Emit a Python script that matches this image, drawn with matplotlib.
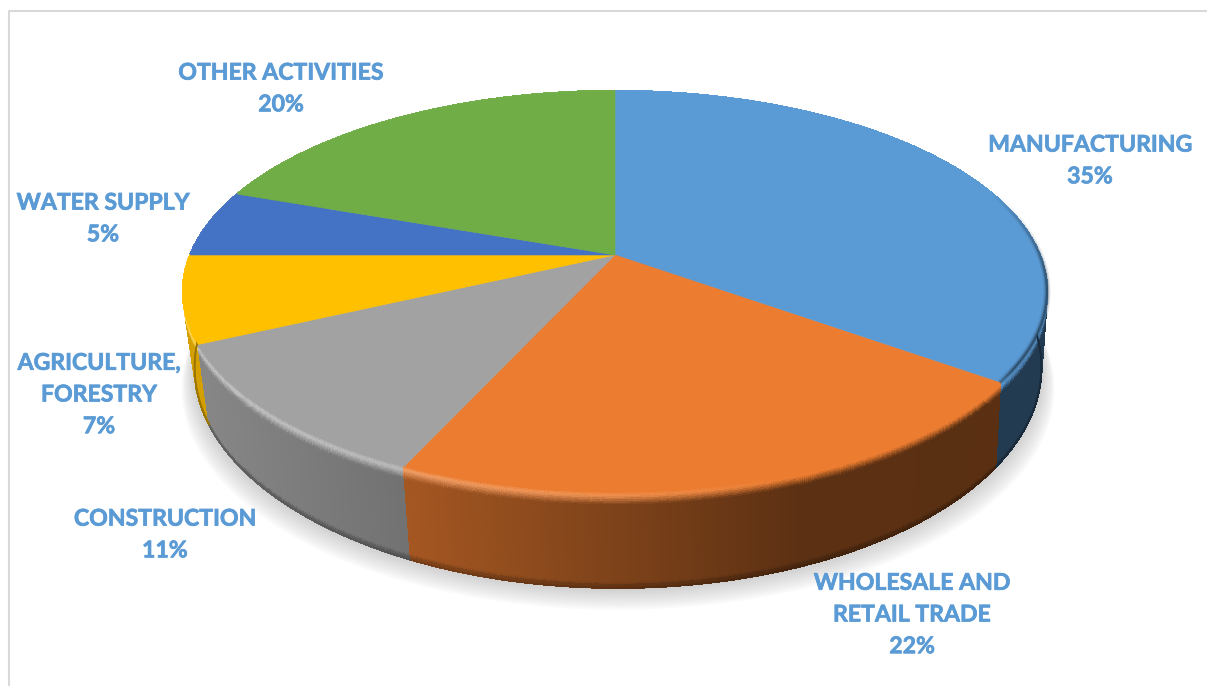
import numpy as np
import matplotlib
matplotlib.use('Agg')
import matplotlib.pyplot as plt
import matplotlib.patheffects as pe
from matplotlib.collections import PolyCollection, LineCollection
from matplotlib.colors import to_rgb

categories = ['MANUFACTURING', 'WHOLESALE AND\nRETAIL TRADE', 'CONSTRUCTION',
              'AGRICULTURE,\nFORESTRY', 'WATER SUPPLY', 'OTHER ACTIVITIES']
# estimated from the slice corners, the labels show them rounded
values = [35, 21.8, 11.2, 7, 5.4, 19.6]
colors = ['#5B9BD5', '#EB7C30', '#A2A2A2', '#FFC000', '#4472C4', '#70AD47']

# label block centres, pixels
label_x = [1090, 912, 165, 99, 103, 281]
label_y = [161, 615, 535, 395, 219, 89]

W, H = 1207, 686
CX, CY = 615, 255
RX, RY, K = 424.8, 193.9, 0.182


def project(theta):
    # theta clockwise from the top of the pie, degrees
    u = np.sin(np.radians(theta))
    v = -np.cos(np.radians(theta))
    w = 1 - K * v
    return RX * u / w, RY * v / w


def top_pts(theta):
    x, y = project(theta)
    return CX + x, CY + y


def bottom_pts(theta):
    x, y = project(theta)
    return CX + 3 + 0.98 * x, CY + 72 + 1.1 * y


def wall_shade(x):
    return np.interp(x, [200, 405, 800, 1050], [0.83, 0.70, 0.39, 0.38])


def highlight(x):
    return np.interp(x, [190, 600, 800], [0.38, 0.16, 0.0])


def wall_colour(face, x, t):
    # colour down the wall, t is 0 at the top edge and 1 at the floor
    base = face * wall_shade(x)
    hi = face + (1 - face) * highlight(x)
    col = np.array([np.interp(t, [0, 0.05, 0.14, 0.95, 1.0],
                              [face[c], hi[c], base[c], base[c], base[c] * 0.72])
                    for c in range(3)])
    return np.clip(col, 0, 1)


fig = plt.figure(figsize=(W / 100, H / 100), dpi=100)
ax = fig.add_axes([0, 0, 1, 1])
ax.set_xlim(0, W)
ax.set_ylim(H, 0)
ax.axis('off')

# chart frame, only the top and left sides fall inside the picture
ax.plot([8.5, 8.5, W], [H, 10.5, 10.5], color='#D9D9D9', lw=1.5, zorder=1)

angles = np.linspace(0, 360, 1441)

# soft shadow under the pie
bx, by = bottom_pts(angles)
for d in np.arange(22, 0, -2):
    sx = CX + (bx - CX) * (1 + d * 0.0014)
    ax.fill(sx, by + d, color='#808080', alpha=0.035, lw=0, zorder=2)

edges = np.cumsum([0] + values) * 3.6

# side wall, built from small quads from back to front
levels = np.r_[np.linspace(0, 0.14, 9), 0.5, 0.95, 0.97, 1.0]
quads = []
quad_cols = []
rim_segs = []
rim_cols = []
order = np.argsort(-np.cos(np.radians(angles[:-1] + 0.125)))
for i in order:
    a0, a1 = angles[i], angles[i + 1]
    mid = 0.5 * (a0 + a1)
    idx = min(np.searchsorted(edges, mid, side='right') - 1, len(values) - 1)
    face = np.array(to_rgb(colors[idx]))
    tx0, ty0 = top_pts(a0)
    tx1, ty1 = top_pts(a1)
    bx0, by0 = bottom_pts(a0)
    bx1, by1 = bottom_pts(a1)
    xm = 0.5 * (tx0 + tx1)
    for j in range(len(levels) - 1):
        t0, t1 = levels[j], levels[j + 1]
        quads.append([(tx0 + (bx0 - tx0) * t0, ty0 + (by0 - ty0) * t0),
                      (tx1 + (bx1 - tx1) * t0, ty1 + (by1 - ty1) * t0),
                      (tx1 + (bx1 - tx1) * t1, ty1 + (by1 - ty1) * t1),
                      (tx0 + (bx0 - tx0) * t1, ty0 + (by0 - ty0) * t1)])
        quad_cols.append(wall_colour(face, xm, 0.5 * (t0 + t1)))
    if 60 < mid < 300:
        rim_segs.append([(bx0, by0), (bx1, by1)])
        rim_cols.append(wall_colour(face, xm, 1.0))
ax.add_collection(PolyCollection(quads, facecolors=quad_cols, edgecolors=quad_cols,
                                 linewidths=1.0, antialiased=False, zorder=3))
# smooths the stepped lower edge of the wall
ax.add_collection(LineCollection(rim_segs, colors=rim_cols, linewidths=1.2,
                                 capstyle='round', zorder=3))

# top face of every slice
for i in range(len(values)):
    a = np.linspace(edges[i], edges[i + 1], 200)
    x, y = top_pts(a)
    ax.fill(np.r_[CX, x], np.r_[CY, y], color=colors[i], lw=0.4, zorder=4)

# dark soft rim on the right of the top face
rim_a = np.arange(70, 126, 0.5)
for width, strength in [(5, 0.15), (3, 0.3), (1.5, 0.6)]:
    segs = []
    seg_cols = []
    for a in rim_a:
        x0, y0 = top_pts(a)
        x1, y1 = top_pts(a + 0.5)
        s = np.interp(a, [70, 100, 122, 126], [0, 1, 1, 0.5]) * strength
        face = np.array(to_rgb(colors[0]))
        segs.append([(x0, y0), (x1, y1)])
        seg_cols.append(tuple(face * wall_shade(x0)) + (s,))
    ax.add_collection(LineCollection(segs, colors=seg_cols, linewidths=width,
                                     capstyle='butt', zorder=5))

for name, val, lx, ly in zip(categories, values, label_x, label_y):
    ax.text(lx, ly, f'{name}\n{val:.0f}%', color='#5B9BD5', family='Lato', weight='bold',
            fontsize=16.6, ha='center', va='center', linespacing=1.63, zorder=6,
            path_effects=[pe.withStroke(linewidth=0.5, foreground='#5B9BD5')])

fig.savefig('out.png', dpi=100)
